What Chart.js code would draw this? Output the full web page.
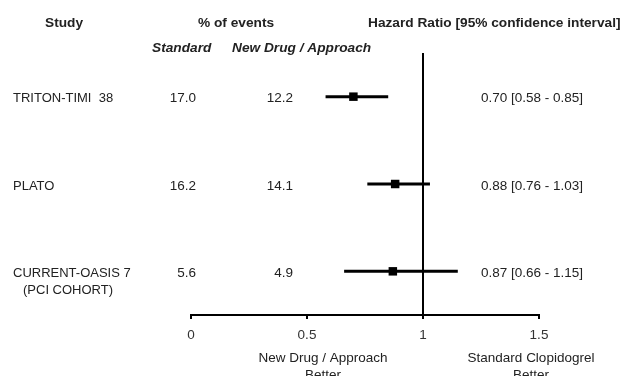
<!DOCTYPE html>
<html>
<head>
<meta charset="utf-8">
<script src="https://cdn.jsdelivr.net/npm/chart.js@4/dist/chart.umd.min.js"></script>
<style>
  html, body { margin: 0; padding: 0; background: #fff; }
  #wrap { width: 622px; height: 376px; }
</style>
</head>
<body>
<div id="wrap"><canvas id="c" width="622" height="376"></canvas></div>
<script>
// ---- data ----
const studies = [["TRITON-TIMI  38"], ["PLATO"], ["CURRENT-OASIS 7", "(PCI COHORT)"]];
const standardPct = [17.0, 16.2, 5.6];
const newPct = [12.2, 14.1, 4.9];
const hazardRatio = [0.70, 0.88, 0.87];
const ciLow = [0.58, 0.76, 0.66];
const ciHigh = [0.85, 1.03, 1.15];
const xTicks = [0, 0.5, 1, 1.5];
const xTickLabels = ["0", "0.5", "1", "1.5"];
const refValue = 1;

const FONT = "'Liberation Sans', Arial, sans-serif";
const TXT = '#222';

// rows placed at the middle of each band of the y scale
const rowY = studies.map((s, i) => i + 0.5);

const datasets = [];
// reference line at HR = 1
datasets.push({
  data: [{x: refValue, y: 0}, {x: refValue, y: studies.length}],
  showLine: true, borderColor: '#000', borderWidth: 2, pointRadius: 0
});
// confidence intervals
studies.forEach((s, i) => {
  datasets.push({
    data: [{x: ciLow[i], y: rowY[i]}, {x: ciHigh[i], y: rowY[i]}],
    showLine: true, borderColor: '#000', borderWidth: 3, pointRadius: 0
  });
});
// point estimates
datasets.push({
  data: hazardRatio.map((v, i) => ({x: v, y: rowY[i]})),
  pointStyle: 'rect', pointRadius: 6, backgroundColor: '#000', borderColor: '#000', borderWidth: 0
});

const textPlugin = {
  id: 'forestText',
  afterDraw(chart) {
    const ctx = chart.ctx;
    const ys = chart.scales.y;
    ctx.save();
    ctx.fillStyle = TXT;
    ctx.textBaseline = 'middle';
    // headers
    ctx.font = "bold 13.7px " + FONT;
    ctx.textAlign = 'left';
    ctx.fillText("Study", 45, 23);
    ctx.fillText("% of events", 198, 23);
    ctx.fillText("Hazard Ratio [95% confidence interval]", 368, 23);
    ctx.font = "italic bold 13.7px " + FONT;
    ctx.fillText("Standard", 152, 48);
    ctx.fillText("New Drug / Approach", 232, 48);
    // rows
    studies.forEach((lines, i) => {
      const y = ys.getPixelForValue(rowY[i]) + 2;
      ctx.font = "13px " + FONT;
      ctx.textAlign = 'left';
      ctx.fillText(lines[0], 13, y);
      if (lines.length > 1) {
        ctx.fillText(lines[1], 23, y + 17);
      }
      ctx.font = "13.5px " + FONT;
      ctx.textAlign = 'right';
      ctx.fillText(standardPct[i].toFixed(1), 196, y);
      ctx.fillText(newPct[i].toFixed(1), 293, y);
      ctx.textAlign = 'left';
      ctx.fillText(hazardRatio[i].toFixed(2) + " [" + ciLow[i].toFixed(2) + " - " + ciHigh[i].toFixed(2) + "]", 481, y);
    });
    // axis captions
    ctx.font = "13.5px " + FONT;
    ctx.textAlign = 'center';
    ctx.fillText("New Drug / Approach", 323, 358);
    ctx.fillText("Better", 323, 375);
    ctx.fillText("Standard Clopidogrel", 531, 358);
    ctx.fillText("Better", 531, 375);
    ctx.restore();
  }
};

new Chart(document.getElementById('c'), {
  type: 'scatter',
  data: { datasets },
  options: {
    responsive: false,
    animation: false,
    plugins: { legend: { display: false }, tooltip: { enabled: false } },
    layout: { padding: { left: 191, right: 83, top: 53, bottom: 0 } },
    scales: {
      x: {
        type: 'linear', min: 0, max: 1.5, position: 'bottom',
        afterBuildTicks: s => { s.ticks = xTicks.map(v => ({ value: v })); },
        afterFit: s => { s.height = 61; },
        ticks: {
          color: '#333', font: { family: FONT, size: 13.5 }, padding: 8, maxRotation: 0, autoSkip: false,
          callback: (v, idx) => xTickLabels[idx]
        },
        grid: { drawOnChartArea: false, drawTicks: true, tickLength: 4, color: '#000', lineWidth: 2 },
        border: { display: true, color: '#000', width: 2 }
      },
      y: { type: 'linear', min: 0, max: 3, reverse: true, display: false }
    }
  },
  plugins: [textPlugin]
});
</script>
</body>
</html>
